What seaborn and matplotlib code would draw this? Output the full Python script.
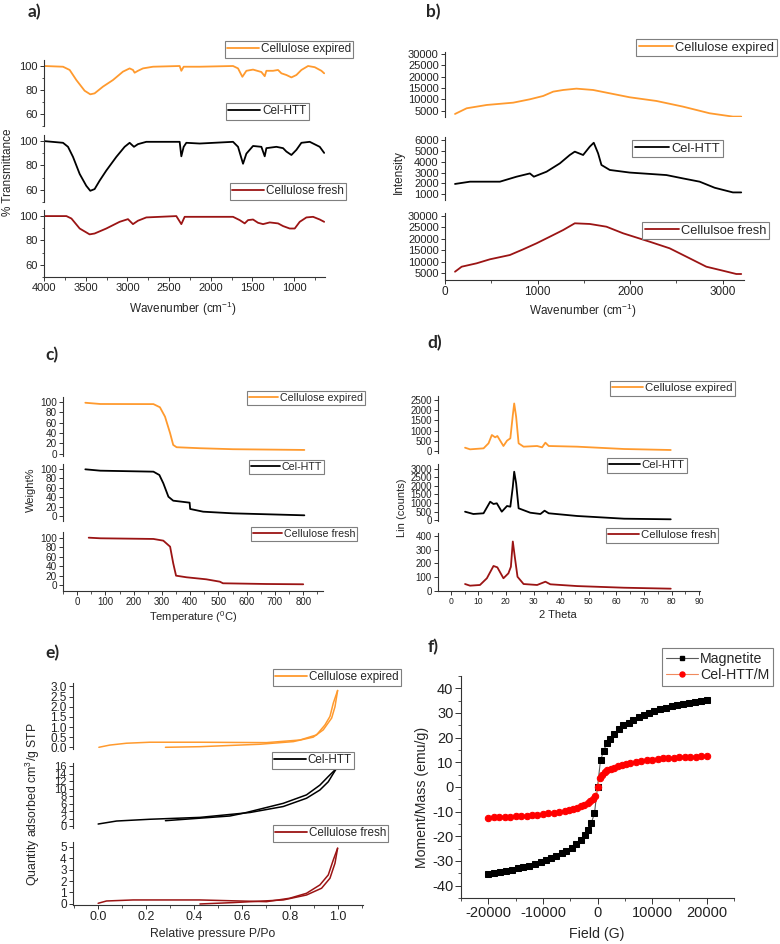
import numpy as np
import pandas as pd
import matplotlib
matplotlib.use('Agg')
import matplotlib.pyplot as plt
import seaborn as sns
from matplotlib.ticker import MultipleLocator, FormatStrFormatter
from matplotlib.lines import Line2D

# ---------------- data ----------------
# a) FTIR
ftir_exp_wn = [4000, 4000, 3772, 3692, 3612, 3513, 3445, 3393, 3293, 3173, 3053, 2973, 2933, 2913, 2873, 2813, 2693, 2373, 2353, 2325,
               2133, 1733, 1673, 1621, 1573, 1493, 1393, 1353, 1333, 1253, 1193, 1153, 1093, 1033, 973, 913, 833, 753, 673, 640]
ftir_exp_t = [40, 100, 99.4, 96.7, 88.3, 79.4, 76.4, 77.2, 82.8, 88.3, 95.3, 98, 96.7, 94.4, 96, 98, 99.4, 100, 96, 99.4,
              99.4, 100, 98, 91, 96, 97, 95, 91.5, 96, 96, 96.7, 93.9, 92.5, 90.5, 92.5, 96.7, 100, 99, 96, 93.9]
ftir_htt_wn = [4000, 3772, 3712, 3652, 3572, 3493, 3445, 3393, 3333, 3253, 3133, 3033, 2973, 2921, 2873, 2773, 2373, 2353, 2325, 2293,
               2133, 1733, 1673, 1613, 1573, 1493, 1393, 1353, 1333, 1213, 1133, 1093, 1033, 973, 913, 813, 693, 640]
ftir_htt_t = [100, 98.6, 95.3, 87, 73, 63.3, 59.2, 60.6, 67.5, 75.8, 87, 95.3, 98.6, 95.3, 97.5, 99.4, 99.4, 87.5, 95.3, 98.6,
              98, 99.4, 95.3, 81.4, 89.7, 96, 95.3, 87.5, 94.2, 95.3, 94.2, 91.4, 88.6, 92.8, 98.6, 99.4, 95.3, 90.3]
ftir_fresh_wn = [4000, 4000, 3731, 3671, 3572, 3453, 3393, 3253, 3093, 2993, 2933, 2873, 2773, 2413, 2353, 2313, 1733, 1653, 1593, 1553,
                 1493, 1433, 1373, 1293, 1193, 1133, 1053, 993, 933, 853, 773, 693, 640]
ftir_fresh_t = [40, 100, 100, 98, 89.8, 85, 85.7, 89.8, 95.3, 97.5, 93.4, 96.2, 98.9, 100, 93.4, 99.4, 99.4, 96.7, 94, 96.7,
                97.2, 94.5, 93.4, 94.8, 94, 91.8, 89.8, 89.8, 95.3, 98.9, 99.4, 97.2, 95.3]

# b) Raman
raman_exp_wn = [108, 234, 450, 737, 917, 1061, 1169, 1277, 1420, 1600, 1780, 1996, 2284, 2571, 2859, 3110, 3200]
raman_exp_i = [3540, 6050, 7510, 8530, 10020, 11490, 13400, 14130, 14720, 14130, 12660, 10900, 9280, 6780, 3840, 2370, 2370]
raman_htt_wn = [108, 270, 593, 773, 917, 960, 1097, 1241, 1348, 1402, 1492, 1564, 1607, 1654, 1690, 1780, 1996, 2392, 2571, 2751,
                2913, 3110, 3200]
raman_htt_i = [1950, 2160, 2160, 2620, 2920, 2620, 3080, 3850, 4620, 4930, 4620, 5390, 5750, 4770, 3700, 3240, 3000, 2770, 2460, 2160,
               1600, 1170, 1170]
raman_fresh_wn = [108, 180, 342, 485, 701, 845, 989, 1133, 1277, 1402, 1564, 1744, 1924, 2211, 2427, 2643, 2823, 3002, 3147, 3200]
raman_fresh_i = [5750, 7920, 9390, 11120, 12980, 15450, 18050, 20910, 23810, 26710, 26420, 25240, 22380, 18740, 15880, 11550, 7920,
                 6190, 4760, 4760]

# c) TGA
tga_exp_T = [29, 82, 270, 293, 311, 329, 340, 352, 387, 434, 551, 804]
tga_exp_w = [98, 95.6, 95.4, 89.3, 71.3, 39.6, 17.2, 12.8, 12, 10.9, 9, 7.6]
tga_htt_T = [29, 82, 270, 291, 305, 323, 340, 398, 400, 446, 551, 804]
tga_htt_w = [99.3, 96.4, 94.3, 87.2, 69.6, 41, 32.6, 28.4, 15, 9.2, 5.7, 1.5]
tga_fresh_T = [41, 82, 270, 305, 329, 340, 350, 387, 457, 505, 516, 669, 800]
tga_fresh_w = [100, 98.7, 97.3, 93.7, 81, 45.9, 19.7, 16.3, 12, 7, 3.6, 2.1, 1.5]

# d) XRD
xrd_exp_th = [5.2, 7, 11.9, 13.7, 14.9, 16.1, 16.9, 19.1, 20.4, 21.6, 22.5, 23, 23.7, 24.6, 26.4, 31.3, 33.1, 34.3, 35.5, 45.8, 62.8, 79.7]
xrd_exp_c = [162, 82, 130, 376, 784, 670, 735, 245, 506, 621, 1760, 2330, 1680, 376, 212, 245, 180, 408, 245, 212, 98, 49]
xrd_htt_th = [5.2, 8.2, 11.9, 14.3, 15.5, 16.7, 18.5, 20.4, 21.6, 22.5, 23, 23.7, 24.6, 28.8, 32.5, 34, 35.5, 45.8, 62.8, 79.7]
xrd_htt_c = [500, 366, 407, 1080, 947, 988, 500, 831, 790, 1952, 2824, 2150, 697, 442, 366, 558, 407, 250, 93, 58]
xrd_fresh_th = [5.2, 7, 10.6, 13.1, 15.5, 16.9, 19.1, 20.9, 21.8, 22.5, 23.2, 24.2, 26.4, 31.3, 34.3, 36.1, 45.8, 62.8, 79.7]
xrd_fresh_c = [49, 37, 42, 91, 181, 171, 91, 127, 175, 360, 250, 102, 49, 42, 66, 47, 34, 22, 15]

# e) N2 isotherms (two branches each)
bet_exp_p_a = [0.003, 0.049, 0.118, 0.216, 0.425, 0.703, 0.843, 0.912, 0.947, 0.968, 0.982, 1.0]
bet_exp_q_a = [0.0, 0.11, 0.2, 0.25, 0.25, 0.23, 0.36, 0.61, 1.1, 1.52, 2.18, 2.8]
bet_exp_p_d = [0.281, 0.425, 0.675, 0.815, 0.898, 0.94, 0.975, 0.989, 1.0]
bet_exp_q_d = [0.0, 0.03, 0.15, 0.28, 0.5, 0.86, 1.44, 2.0, 2.8]
bet_htt_p_a = [0.0, 0.077, 0.216, 0.425, 0.634, 0.773, 0.87, 0.926, 0.961, 0.982, 0.996]
bet_htt_q_a = [0.53, 1.33, 1.8, 2.3, 3.6, 5.2, 7.4, 9.6, 11.8, 14.0, 15.4]
bet_htt_p_d = [0.281, 0.55, 0.606, 0.773, 0.87, 0.926, 0.961, 0.996]
bet_htt_q_d = [1.42, 2.67, 3.4, 6.05, 8.3, 10.9, 13.2, 15.4]
bet_fresh_p_a = [0.0, 0.035, 0.146, 0.425, 0.703, 0.8, 0.87, 0.926, 0.961, 0.982, 1.0]
bet_fresh_q_a = [0.06, 0.26, 0.35, 0.35, 0.2, 0.5, 0.93, 1.66, 2.53, 3.84, 4.86]
bet_fresh_p_d = [0.425, 0.564, 0.773, 0.87, 0.933, 0.968, 0.989, 1.0]
bet_fresh_q_d = [0.0, 0.12, 0.35, 0.78, 1.37, 2.24, 3.55, 4.86]

# f) VSM
mag_field = [-20000, -18950, -17900, -16800, -15700, -14650, -13600, -12550, -11500, -10400, -9450, -8450, -7550, -6550, -5700,
             -4700, -3850, -3050, -2250, -1700, -1150, -550, 0, 550, 1150, 1700, 2250, 3050, 3850, 4700, 5700, 6550, 7550,
             8450, 9450, 10400, 11500, 12550, 13600, 14650, 15700, 16800, 17900, 18950, 20000]
mag_m = [-35.1, -34.8, -34.3, -33.9, -33.5, -33.0, -32.5, -31.9, -31.3, -30.5, -29.6, -28.8, -28.0, -26.9, -25.8,
         -24.8, -23.3, -21.4, -19.3, -17.6, -14.7, -10.6, 0.0, 10.8, 14.7, 17.9, 19.5, 21.6, 23.5, 25.0, 26.0, 27.1, 28.2,
         29.0, 29.8, 30.7, 31.5, 32.1, 32.7, 33.2, 33.7, 34.1, 34.5, 34.8, 35.1]
htt_field = [-20000, -19000, -18000, -17000, -16000, -15000, -14000, -13000, -12000, -11000, -10000, -9000, -8000, -7000, -6000,
             -5200, -4400, -3700, -3000, -2400, -1800, -1300, -800, -400, 0, 400, 800, 1300, 1800, 2400, 3000, 3700, 4400,
             5200, 6000, 7000, 8000, 9000, 10000, 11000, 12000, 13000, 14000, 15000, 16000, 17000, 18000, 19000, 20000]
htt_m = [-12.4, -12.3, -12.2, -12.1, -12.0, -11.9, -11.8, -11.6, -11.4, -11.2, -11.0, -10.7, -10.4, -10.1, -9.7,
         -9.3, -8.9, -8.4, -7.8, -7.2, -6.6, -5.8, -4.8, -3.6, 0.0, 3.8, 5.0, 6.0, 6.8, 7.4, 7.9, 8.5, 9.0,
         9.4, 9.8, 10.2, 10.5, 10.8, 11.1, 11.4, 11.6, 11.8, 11.9, 12.0, 12.1, 12.2, 12.3, 12.4, 12.5]

labels3 = ['Cellulose expired', 'Cel-HTT', 'Cellulose fresh']
labels_b = ['Cellulose expired', 'Cel-HTT', 'Cellulsoe fresh']
labels_f = ['Magnetite', 'Cel-HTT/M']

# ---------------- style ----------------
sns.set_style('ticks')
plt.rcParams['font.family'] = ['Liberation Sans', 'DejaVu Sans']
plt.rcParams['mathtext.fontset'] = 'custom'
plt.rcParams['mathtext.rm'] = 'Liberation Sans'
plt.rcParams['mathtext.it'] = 'Liberation Sans:italic'
plt.rcParams['axes.unicode_minus'] = False
plt.rcParams['axes.edgecolor'] = '#333333'
plt.rcParams['xtick.color'] = '#333333'
plt.rcParams['ytick.color'] = '#333333'
plt.rcParams['xtick.labelcolor'] = '#222222'
plt.rcParams['ytick.labelcolor'] = '#222222'

ORANGE = '#FF9A2E'
DARKRED = '#9B1414'
BLACK = '#000000'
colors3 = [ORANGE, BLACK, DARKRED]

W, H = 780, 944
fig = plt.figure(figsize=(W / 100, H / 100), dpi=100)


def rect(l, t, r, b):
    return [l / W, 1 - b / H, (r - l) / W, (b - t) / H]


def style_ax(ax, bottom, fs, xfs=None, lw=0.8):
    ax.set_facecolor('none')
    ax.spines['top'].set_visible(False)
    ax.spines['right'].set_visible(False)
    ax.spines['left'].set_linewidth(lw)
    if bottom:
        ax.spines['bottom'].set_linewidth(lw)
    else:
        ax.spines['bottom'].set_visible(False)
        ax.tick_params(axis='x', which='both', bottom=False, labelbottom=False)
    ax.tick_params(axis='y', which='major', direction='out', length=3, width=0.7, labelsize=fs, pad=1.5)
    ax.tick_params(axis='x', which='major', direction='out', length=3, width=0.7,
                   labelsize=(xfs if xfs else fs), pad=1.5)
    ax.tick_params(which='minor', direction='out', length=1.8, width=0.6)
    ax.set_xlabel('')
    ax.set_ylabel('')


def add_legend(ax, labels, handles, x, t, fs, hl=2.6, bp=0.2, loc='upper left'):
    leg = ax.legend(handles=handles, labels=labels, loc=loc,
                    bbox_to_anchor=(x / W, 1 - t / H), bbox_transform=fig.transFigure,
                    frameon=True, fancybox=False, framealpha=1, edgecolor='#7f7f7f',
                    fontsize=fs, handlelength=hl, handletextpad=0.15, borderpad=bp,
                    borderaxespad=0, labelspacing=0.2)
    leg.get_frame().set_linewidth(0.8)
    return leg


def line(ax, x, y, color, lw=1.3):
    sns.lineplot(x=x, y=y, ax=ax, color=color, lw=lw, sort=False, estimator=None, legend=False)


# ---------------- panel a ----------------
a_rows = [(60, 126), (135, 202), (210, 277)]
a_data = [(ftir_exp_wn, ftir_exp_t), (ftir_htt_wn, ftir_htt_t), (ftir_fresh_wn, ftir_fresh_t)]
a_leg = [(225, 41), (226, 103), (230, 183)]
for i, ((t, b), (x, y)) in enumerate(zip(a_rows, a_data)):
    ax = fig.add_axes(rect(44, t, 325, b))
    line(ax, x, y, colors3[i])
    ax.set_xlim(4000, 630)
    ax.set_ylim(50, 105)
    ax.set_yticks([60, 80, 100])
    ax.yaxis.set_minor_locator(MultipleLocator(10))
    ax.xaxis.set_major_locator(MultipleLocator(500))
    ax.xaxis.set_minor_locator(MultipleLocator(250))
    style_ax(ax, bottom=(i == 2), fs=8)
    add_legend(ax, [labels3[i]], [Line2D([0], [0], color=colors3[i], lw=1.3)], a_leg[i][0], a_leg[i][1], 8.5, hl=2.7)
fig.text(183 / W, 1 - 309 / H, 'Wavenumber (cm$^{-1}$)', ha='center', va='center', fontsize=8.5)
fig.text(8 / W, 1 - 172 / H, '% Transmittance', ha='center', va='center', rotation=90, fontsize=8.5)

# ---------------- panel b ----------------
b_rows = [(52, 117, (2200, 30900), [5000, 10000, 15000, 20000, 25000, 30000]),
          (137, 200, (470, 6280), [1000, 2000, 3000, 4000, 5000, 6000]),
          (213, 280, (2160, 31170), [5000, 10000, 15000, 20000, 25000, 30000])]
b_data = [(raman_exp_wn, raman_exp_i), (raman_htt_wn, raman_htt_i), (raman_fresh_wn, raman_fresh_i)]
b_leg = [(636, 39), (632, 140), (642, 222)]
for i, ((t, b, yl, yt), (x, y)) in enumerate(zip(b_rows, b_data)):
    ax = fig.add_axes(rect(445, t, 744, b))
    line(ax, x, y, colors3[i])
    ax.set_xlim(0, 3230)
    ax.set_ylim(*yl)
    ax.set_yticks(yt)
    ax.xaxis.set_major_locator(MultipleLocator(1000))
    ax.xaxis.set_minor_locator(MultipleLocator(500))
    style_ax(ax, bottom=(i == 2), fs=8, xfs=8.5)
    add_legend(ax, [labels_b[i]], [Line2D([0], [0], color=colors3[i], lw=1.3)], b_leg[i][0], b_leg[i][1], 9.3, hl=2.7)
fig.text(583 / W, 1 - 311 / H, 'Wavenumber (cm$^{-1}$)', ha='center', va='center', fontsize=8.5)
fig.text(399 / W, 1 - 172 / H, 'Intensity', ha='center', va='center', rotation=90, fontsize=8.5)

# ---------------- panel c ----------------
c_rows = [(397, 456, (-4, 109)), (464, 521, (-10.6, 110.6)), (532, 591, (-12.7, 112))]
c_data = [(tga_exp_T, tga_exp_w), (tga_htt_T, tga_htt_w), (tga_fresh_T, tga_fresh_w)]
c_leg = [(247, 391), (249, 460), (251, 527)]
for i, ((t, b, yl), (x, y)) in enumerate(zip(c_rows, c_data)):
    ax = fig.add_axes(rect(63, t, 323, b))
    line(ax, x, y, colors3[i])
    ax.set_xlim(-50, 870)
    ax.set_ylim(*yl)
    ax.set_yticks([0, 20, 40, 60, 80, 100])
    ax.xaxis.set_major_locator(MultipleLocator(100))
    ax.xaxis.set_minor_locator(MultipleLocator(50))
    style_ax(ax, bottom=(i == 2), fs=7.2, xfs=7)
    add_legend(ax, [labels3[i]], [Line2D([0], [0], color=colors3[i], lw=1.3)], c_leg[i][0], c_leg[i][1], 7.7, hl=2.7)
fig.text(193 / W, 1 - 617 / H, 'Temperature ($^{0}$C)', ha='center', va='center', fontsize=8)
fig.text(31 / W, 1 - 490 / H, 'Weight%', ha='center', va='center', rotation=90, fontsize=8)

# ---------------- panel d ----------------
d_rows = [(396, 453, (-98, 2695), [0, 500, 1000, 1500, 2000, 2500]),
          (464, 521, (-41, 3271), [0, 500, 1000, 1500, 2000, 2500, 3000]),
          (533, 591, (-2, 422), [0, 100, 200, 300, 400])]
d_data = [(xrd_exp_th, xrd_exp_c), (xrd_htt_th, xrd_htt_c), (xrd_fresh_th, xrd_fresh_c)]
d_leg = [(610, 381), (607, 458), (606, 528)]
for i, ((t, b, yl, yt), (x, y)) in enumerate(zip(d_rows, d_data)):
    ax = fig.add_axes(rect(438, t, 700, b))
    line(ax, x, y, colors3[i])
    ax.set_xlim(-4.6, 90.3)
    ax.set_ylim(*yl)
    ax.set_yticks(yt)
    ax.xaxis.set_major_locator(MultipleLocator(10))
    ax.xaxis.set_minor_locator(MultipleLocator(5))
    style_ax(ax, bottom=(i == 2), fs=7, xfs=6.2)
    add_legend(ax, [labels3[i]], [Line2D([0], [0], color=colors3[i], lw=1.3)], d_leg[i][0], d_leg[i][1], 8.2, hl=2.7)
fig.text(558 / W, 1 - 615 / H, '2 Theta', ha='center', va='center', fontsize=8)
fig.text(402 / W, 1 - 508 / H, 'Lin (counts)', ha='center', va='center', rotation=90, fontsize=8)

# ---------------- panel e ----------------
e_rows = [(683, 749, (-0.084, 3.17), [0, 0.5, 1.0, 1.5, 2.0, 2.5, 3.0]),
          (763, 828, (-0.53, 16.8), [0, 2, 4, 6, 8, 10, 12, 14, 16]),
          (842, 905, (-0.09, 5.4), [0, 1, 2, 3, 4, 5])]
e_data = [((bet_exp_p_a, bet_exp_q_a), (bet_exp_p_d, bet_exp_q_d)),
          ((bet_htt_p_a, bet_htt_q_a), (bet_htt_p_d, bet_htt_q_d)),
          ((bet_fresh_p_a, bet_fresh_q_a), (bet_fresh_p_d, bet_fresh_q_d))]
e_leg = [(273, 669), (272, 752), (273, 825)]
for i, ((t, b, yl, yt), branches) in enumerate(zip(e_rows, e_data)):
    ax = fig.add_axes(rect(73, t, 363, b))
    for (x, y) in branches:
        line(ax, x, y, colors3[i], lw=1.1)
    ax.set_xlim(-0.105, 1.106)
    ax.set_ylim(*yl)
    ax.set_yticks(yt)
    if i == 0:
        ax.yaxis.set_major_formatter(FormatStrFormatter('%.1f'))
    ax.xaxis.set_major_locator(MultipleLocator(0.2))
    ax.xaxis.set_minor_locator(MultipleLocator(0.1))
    ax.xaxis.set_major_formatter(FormatStrFormatter('%.1f'))
    style_ax(ax, bottom=(i == 2), fs=(8.0 if i == 1 else 8.5), xfs=9)
    add_legend(ax, [labels3[i]], [Line2D([0], [0], color=colors3[i], lw=1.3)], e_leg[i][0], e_leg[i][1], 8.4, hl=2.7)
fig.text(213 / W, 1 - 934 / H, 'Relative pressure P/Po', ha='center', va='center', fontsize=8.8)
fig.text(33 / W, 1 - 804 / H, 'Quantity adsorbed cm$^{3}$/g STP', ha='center', va='center', rotation=90, fontsize=8.8)

# ---------------- panel f ----------------
ax = fig.add_axes(rect(461, 676, 734, 898))
sns.lineplot(x=mag_field, y=mag_m, ax=ax, color='#5a5a5a', lw=0.8, marker='s', markersize=4.3,
             markerfacecolor='black', markeredgecolor='black', sort=False, estimator=None, legend=False)
sns.lineplot(x=htt_field, y=htt_m, ax=ax, color='#F08A5D', lw=0.8, marker='o', markersize=4.6,
             markerfacecolor='#FF0000', markeredgecolor='#FF0000', sort=False, estimator=None, legend=False)
ax.set_xlim(-25000, 25000)
ax.set_ylim(-45, 45)
ax.set_xticks([-20000, -10000, 0, 10000, 20000])
ax.xaxis.set_minor_locator(MultipleLocator(5000))
ax.set_yticks([-40, -30, -20, -10, 0, 10, 20, 30, 40])
ax.yaxis.set_minor_locator(MultipleLocator(5))
style_ax(ax, bottom=True, fs=10.5)
ax.tick_params(axis='both', which='major', length=4)
ax.tick_params(which='minor', length=2.2)
hf = [Line2D([0], [0], color='#5a5a5a', lw=0.8, marker='s', markersize=3.2, markerfacecolor='black', markeredgecolor='black'),
      Line2D([0], [0], color='#F08A5D', lw=0.8, marker='o', markersize=3.6, markerfacecolor='#FF0000', markeredgecolor='#FF0000')]
add_legend(ax, labels_f, hf, 773, 648, 10.2, hl=2.3, bp=0.25, loc='upper right')
fig.text(597 / W, 1 - 934 / H, 'Field (G)', ha='center', va='center', fontsize=10.2)
fig.text(422 / W, 1 - 797 / H, 'Moment/Mass (emu/g)', ha='center', va='center', rotation=90, fontsize=10.2)

# ---------------- panel labels ----------------
for txt, (x, y) in zip(['a)', 'b)', 'c)', 'd)', 'e)', 'f)'],
                       [(34, 12), (433, 12), (52, 355), (435, 343), (52, 653), (433, 647)]):
    fig.text(x / W, 1 - y / H, txt, ha='center', va='center', fontsize=12.5, fontweight='bold',
             family=['Lato', 'DejaVu Sans'])

fig.savefig('out.png', dpi=100)
